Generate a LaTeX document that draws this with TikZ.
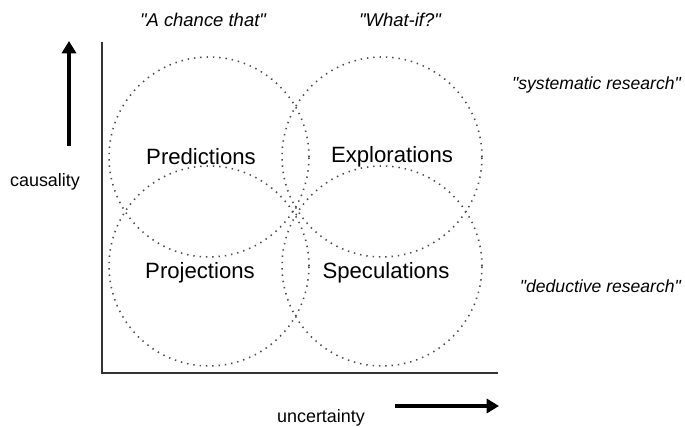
\documentclass[tikz,border=0pt]{standalone}
\usepackage{fontspec}
\setmainfont{Liberation Sans}
\usepackage{tikz}
\usetikzlibrary{arrows.meta}

\tikzset{
  ring/.style={gray!60!black, line width=0.9pt, dash pattern=on 0.8pt off 2.8pt},
  bigarrow/.style={line width=2pt, -{Triangle[length=7pt,width=8pt]}},
  quad/.style={font=\fontsize{12.6}{14}\selectfont},
  note/.style={font=\fontsize{10.5}{12}\selectfont\itshape},
}

\begin{document}
\begin{tikzpicture}

\useasboundingbox (0,0) rectangle (13.7,8.54);

% the four overlapping circles
\draw[ring] (4.18,5.40) circle (2cm);
\draw[ring] (7.64,5.40) circle (2cm);
\draw[ring] (4.18,3.22) circle (2cm);
\draw[ring] (7.64,3.22) circle (2cm);

% axes
\coordinate (top) at (2.04,7.70);
\coordinate (origin) at (2.04,1.08);
\coordinate (right) at (9.96,1.08);
\draw[line width=0.8pt, black!80] (top) -- (origin) -- (right);

% direction arrows
\coordinate (upstart) at (1.38,5.62);
\coordinate (upend) at (1.38,7.72);
\coordinate (rstart) at (7.90,0.42);
\coordinate (rend) at (9.98,0.42);
\draw[bigarrow] (upstart) -- (upend);
\draw[bigarrow] (rstart) -- (rend);

\node[quad] (pred) at (4.02,5.40) {Predictions};
\node[quad] (expl) at (7.84,5.40) {Explorations};
\node[quad] (proj) at (4.00,3.08) {Projections};
\node[quad] (spec) at (7.72,3.08) {Speculations};

\node[note] (chance) at (4.06,8.14) {\textquotedbl A chance that\textquotedbl};
\node[note] (whatif) at (8.00,8.14) {\textquotedbl What-if?\textquotedbl};
\node[note, font=\fontsize{10}{12}\selectfont\itshape, anchor=east, inner sep=1pt] (syst) at (13.66,6.84) {\textquotedbl systematic research\textquotedbl};
\node[note, font=\fontsize{10}{12}\selectfont\itshape, anchor=east, inner sep=1pt] (deduc) at (13.66,2.82) {\textquotedbl deductive research\textquotedbl};

\node[font=\fontsize{10.2}{12}\selectfont] (caus) at (0.90,4.90) {causality};
\node[font=\fontsize{10.2}{12}\selectfont] (unc) at (6.42,0.18) {uncertainty};

\end{tikzpicture}
\end{document}
